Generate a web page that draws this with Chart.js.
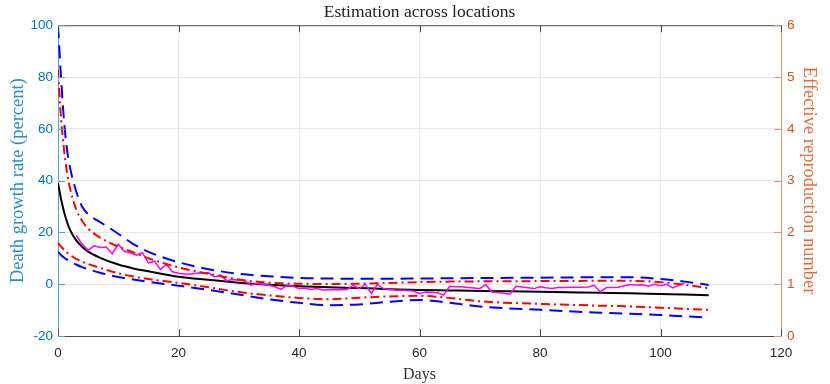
<!DOCTYPE html>
<html>
<head>
<meta charset="utf-8">
<script src="https://cdn.jsdelivr.net/npm/chart.js@4/dist/chart.umd.min.js"></script>
<style>
  body { margin: 0; background: #fff; }
  canvas { display: block; }
</style>
</head>
<body>
<canvas id="chart" width="830" height="384"></canvas>
<script>
// sample days for the smooth curves
const days = [0, 0.5, 1, 1.5, 2, 3, 4, 5, 7, 10, 12.5, 15, 20, 25, 30, 35, 40, 45, 50, 55, 60, 65, 70, 80, 90, 95, 100, 104, 108];

const meanRate  = [39, 33, 28, 24, 21, 17, 14.5, 12.6, 10.2, 7.6, 6.1, 5, 2.9, 1.7, 0.6, -0.2, -0.8, -1.2, -1.5, -1.9, -2.2, -2.4, -2.6, -2.9, -3.3, -3.5, -3.8, -4, -4.3];
const blueUpper = [100, 80, 63, 52, 45, 36, 30, 27, 24, 19.5, 15.5, 12.5, 8.5, 5.8, 4, 3.1, 2.4, 2.2, 2.1, 2.1, 2.2, 2.3, 2.4, 2.5, 2.7, 2.7, 2, 1, -0.3];
const redUpper  = [83, 64, 52, 43, 37, 29, 24.5, 21.5, 18, 14.5, 12.3, 10, 6.5, 4, 1.8, 0.6, 0.2, 0.1, 0.2, 0.5, 0.8, 1, 1.1, 1.2, 1.3, 1.3, 0.8, -0.2, -1.6];
const redLower  = [16, 14.5, 13.3, 12.2, 11.3, 9.8, 8.7, 7.8, 6.3, 4.2, 3, 2, 0.5, -1.2, -3, -4.3, -5.3, -5.8, -5.2, -4.7, -4.5, -5.3, -6.6, -7.6, -8.3, -8.6, -9.1, -9.5, -9.9];
const blueLower = [12.5, 11.3, 10.3, 9.5, 8.8, 7.6, 6.6, 5.8, 4.4, 2.8, 1.8, 0.9, -0.6, -2.2, -4, -5.8, -7.2, -8.1, -7.8, -6.8, -6.1, -7.2, -8.6, -9.9, -11, -11.4, -11.9, -12.4, -12.9];

// observed (noisy) rate, one value per day starting at day 3
const observedStart = 3;
const observed = [18.9, 15.5, 13.1, 14.8, 14.2, 14.4, 11.8, 15.4, 12.7, 12.1, 11.2, 12.2, 8.2, 8.9, 5.7, 7.7, 4.8, 4.2,
  3.9, 3.9, 4.2, 4.4, 4.4, 2.8, 3.5, 1.3, 1.8, 1.5, 1.3, -0.4, 0.3, 0, -0.4, -1, -2, -0.4, -0.8, -1.7,
  -1.5, -2, -1.7, -2.2, -2.1, -2, -2.1, -2, -0.4, -1.7, 0, -3.6, -0.1, -1.7, -2, -2.2, -2.3, -2.4, -2.6, -3.6,
  -3, -3.1, -3.3, -4.2, -0.8, -1, -1, -1.3, -1.5, -1.7, -0.1, -3, -3.2, -3.5, -3.9, -0.8, -1.1, -1.4, -1.7,
  -1, -1.4, -1.7, -1.3, -1.3, -1.2, -1.2, -1.2, -1.1, -0.4, -3, -1.3, -1.3, -1.2, -0.6, -0.1, -0.3, -0.2, -0.8,
  0, -0.6, 0, -1.4, -0.4, 0.4];

const xTicks = [0, 20, 40, 60, 80, 100, 120];
const leftTicks = [-20, 0, 20, 40, 60, 80, 100];
const rightTicks = [0, 1, 2, 3, 4, 5, 6];

const BLUE_TXT = "rgb(0,114,189)";
const ORANGE_TXT = "rgb(217,83,25)";

function pts(xs, ys) {
  return ys.map((y, i) => ({ x: xs[i], y: y }));
}

function curve(label, values, color, dash) {
  return {
    label: label,
    data: pts(days, values),
    borderColor: color,
    borderWidth: 2,
    borderDash: dash,
    pointRadius: 0,
    cubicInterpolationMode: "monotone",
    fill: false,
    yAxisID: "y",
  };
}

const observedPts = observed.map((v, i) => ({ x: observedStart + i, y: v }));

// MATLAB-like inward ticks and the top box line
const boxTicks = {
  id: "boxTicks",
  afterDatasetsDraw(chart) {
    const { ctx, chartArea: a, scales } = chart;
    const len = 7;
    ctx.save();
    ctx.lineWidth = 1;
    ctx.strokeStyle = "#4d4d4d";
    ctx.beginPath();
    ctx.moveTo(a.left, a.top + 0.5);
    ctx.lineTo(a.right, a.top + 0.5);
    xTicks.forEach((t) => {
      const px = Math.round(scales.x.getPixelForValue(t)) + 0.5;
      ctx.moveTo(px, a.bottom);
      ctx.lineTo(px, a.bottom - len);
      ctx.moveTo(px, a.top);
      ctx.lineTo(px, a.top + len);
    });
    ctx.stroke();

    ctx.strokeStyle = "rgb(90,160,215)";
    ctx.beginPath();
    leftTicks.forEach((t) => {
      const py = Math.round(scales.y.getPixelForValue(t)) + 0.5;
      ctx.moveTo(a.left, py);
      ctx.lineTo(a.left + len, py);
    });
    ctx.stroke();

    ctx.strokeStyle = "rgb(230,150,115)";
    ctx.beginPath();
    rightTicks.forEach((t) => {
      const py = Math.round(scales.y2.getPixelForValue(t)) + 0.5;
      ctx.moveTo(a.right, py);
      ctx.lineTo(a.right - len, py);
    });
    ctx.stroke();
    ctx.restore();
  },
};

new Chart(document.getElementById("chart"), {
  type: "line",
  data: {
    datasets: [
      curve("Upper bound", blueUpper, "rgb(0,0,255)", [13, 7]),
      curve("Lower bound", blueLower, "rgb(0,0,255)", [13, 7]),
      curve("Upper interval", redUpper, "rgb(255,0,0)", [9, 4, 2, 4]),
      curve("Lower interval", redLower, "rgb(255,0,0)", [9, 4, 2, 4]),
      {
        label: "Observed",
        data: observedPts,
        borderColor: "rgb(255,0,255)",
        borderWidth: 1.5,
        pointRadius: 0,
        tension: 0,
        fill: false,
        yAxisID: "y",
      },
      curve("Mean", meanRate, "#000000", []),
    ],
  },
  options: {
    responsive: false,
    animation: false,
    layout: { padding: 0 },
    plugins: {
      legend: { display: false },
      tooltip: { enabled: false },
      title: {
        display: true,
        fullSize: false,
        text: "Estimation across locations",
        color: "#222",
        font: { family: "'Liberation Serif', serif", size: 17.5, weight: "normal", lineHeight: 1.1 },
        padding: { top: 3, bottom: 3 },
      },
    },
    scales: {
      x: {
        type: "linear",
        min: 0,
        max: 120,
        afterFit: (s) => { s.height = 48; },
        afterBuildTicks: (s) => { s.ticks = xTicks.map((v) => ({ value: v })); },
        grid: { color: "#e3e9ef", drawTicks: false },
        border: { color: "#4d4d4d", width: 1 },
        ticks: {
          padding: 9,
          color: "#262626",
          font: { family: "'Liberation Sans', sans-serif", size: 13.5 },
        },
        title: {
          display: true,
          text: "Days",
          color: "#333",
          font: { family: "'Liberation Serif', serif", size: 16 },
          padding: { top: 3, bottom: 0 },
        },
      },
      y: {
        position: "left",
        min: -20,
        max: 100,
        afterFit: (s) => { s.width = 58; },
        afterBuildTicks: (s) => { s.ticks = leftTicks.map((v) => ({ value: v })); },
        grid: { color: "#e3e9ef", drawTicks: false },
        border: { color: "rgb(90,160,215)", width: 1 },
        ticks: {
          padding: 5,
          color: BLUE_TXT,
          font: { family: "'Liberation Sans', sans-serif", size: 13.5 },
        },
        title: {
          display: true,
          text: "Death growth rate (percent)",
          color: "rgb(40,140,205)",
          font: { family: "'Liberation Serif', serif", size: 18.5 },
          padding: { top: 7, bottom: 0 },
        },
      },
      y2: {
        position: "right",
        min: 0,
        max: 6,
        afterFit: (s) => { s.width = 49; },
        afterBuildTicks: (s) => { s.ticks = rightTicks.map((v) => ({ value: v })); },
        grid: { display: false, drawTicks: false },
        border: { color: "rgb(230,150,115)", width: 1 },
        ticks: {
          padding: 6,
          color: ORANGE_TXT,
          font: { family: "'Liberation Sans', sans-serif", size: 13.5 },
        },
        title: {
          display: true,
          text: "Effective reproduction number",
          color: "rgb(225,110,60)",
          font: { family: "'Liberation Serif', serif", size: 18.5 },
          padding: { top: 10, bottom: 0 },
        },
      },
    },
  },
  plugins: [boxTicks],
});
</script>
</body>
</html>
